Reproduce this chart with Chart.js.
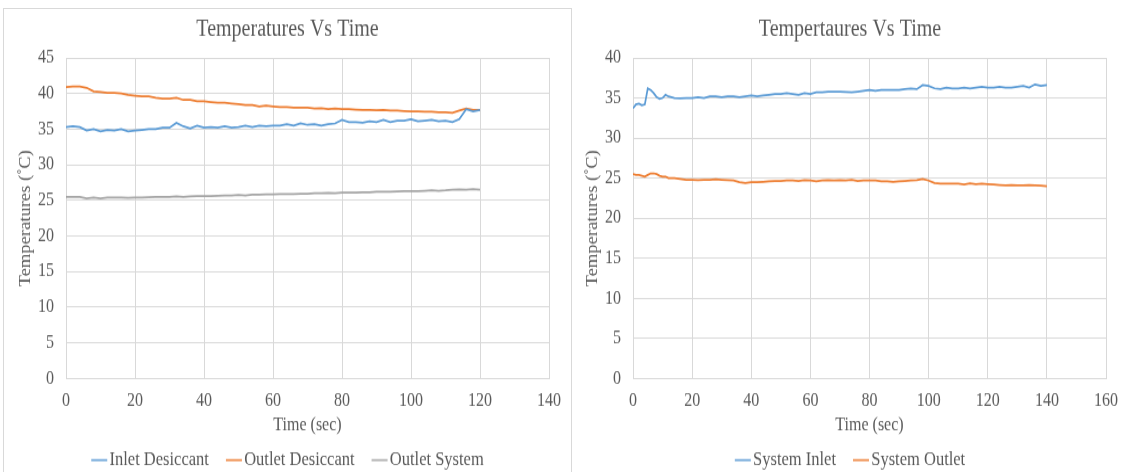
<!DOCTYPE html>
<html>
<head>
<meta charset="utf-8">
<script src="https://cdn.jsdelivr.net/npm/chart.js@4.4.1/dist/chart.umd.min.js"></script>
<style>
html, body { margin:0; padding:0; background:#fff; overflow:hidden; width:1125px; height:472px; }
.ln { position:absolute; background:#d9d9d9; }
canvas { position:absolute; transform-origin:0 0; transform:scaleY(1.16); }
</style>
</head>
<body>
<div class="ln" style="left:3px;top:8px;width:1px;height:464px"></div>
<div class="ln" style="left:3px;top:8px;width:569px;height:1px"></div>
<div class="ln" style="left:571px;top:8px;width:1px;height:464px"></div>
<canvas id="chartL" width="567" height="408" style="left:4px;top:8px"></canvas>
<canvas id="chartR" width="556" height="408" style="left:572px;top:8px"></canvas>
<script>
// ---- left chart: desiccant temps ----
const timeLeft = [0,2,4,6,8,10,12,14,16,18,20,22,24,26,28,30,32,34,36,38,40,42,44,46,48,50,52,54,56,58,
  60,62,64,66,68,70,72,74,76,78,80,82,84,86,88,90,92,94,96,98,100,102,104,106,108,110,112,114,116,118,120];
const inletDesiccant = [35.3,35.4,35.3,34.8,35.0,34.7,34.9,34.8,35.0,34.7,
  34.8,34.9,35.0,35.0,35.2,35.2,35.9,35.4,35.1,35.5,
  35.2,35.3,35.2,35.4,35.2,35.3,35.5,35.3,35.5,35.4,
  35.5,35.5,35.7,35.5,35.8,35.6,35.7,35.5,35.7,35.8,
  36.3,36.0,36.0,35.9,36.1,36.0,36.3,36.0,36.2,36.2,
  36.4,36.1,36.2,36.3,36.1,36.2,36.0,36.4,37.8,37.5,
  37.7];
const outletDesiccant = [40.9,41.0,41.0,40.8,40.3,40.2,40.1,40.1,40.0,39.8,
  39.7,39.6,39.6,39.4,39.3,39.3,39.4,39.1,39.1,38.9,
  38.9,38.8,38.7,38.7,38.6,38.5,38.4,38.4,38.2,38.3,
  38.2,38.1,38.1,38.0,38.0,38.0,37.9,37.95,37.8,37.9,
  37.8,37.8,37.75,37.7,37.7,37.65,37.7,37.6,37.6,37.55,
  37.5,37.5,37.45,37.45,37.35,37.35,37.3,37.6,37.9,37.7,
  37.7];
const outletSystem = [25.5,25.5,25.5,25.3,25.4,25.3,25.4,25.4,25.4,25.35,
  25.4,25.4,25.45,25.5,25.5,25.5,25.55,25.5,25.55,25.6,
  25.6,25.6,25.65,25.7,25.7,25.75,25.7,25.8,25.8,25.85,
  25.85,25.9,25.9,25.9,25.95,25.95,26.0,26.0,26.05,26.0,
  26.1,26.1,26.1,26.15,26.15,26.2,26.2,26.2,26.25,26.3,
  26.3,26.3,26.35,26.4,26.35,26.4,26.5,26.55,26.5,26.6,
  26.5];

// ---- right chart: system temps ----
const timeRight = [0,1,2,3,4,5,6,7,8,9,10,11,12,14,16,18,20,22,24,26,28,30,32,34,36,38,40,42,44,46,48,50,52,
  54,56,58,60,62,64,66,68,70,72,74,76,78,80,82,84,86,88,90,92,94,96,98,100,102,104,106,108,110,112,
  114,116,118,120,122,124,126,128,130,132,134,136,138,140];
const systemInlet = [33.7,34.2,34.3,34.1,34.2,36.2,36.0,35.6,35.1,34.9,35.0,35.4,35.2,
  35.0,34.95,35.0,35.0,35.1,35.0,35.2,35.2,35.1,35.2,
  35.2,35.1,35.2,35.3,35.2,35.3,35.4,35.5,35.5,35.6,
  35.5,35.4,35.6,35.5,35.7,35.7,35.8,35.8,35.8,35.75,
  35.7,35.8,35.9,36.0,35.9,36.0,36.0,36.0,36.0,36.1,
  36.2,36.1,36.6,36.5,36.2,36.1,36.3,36.2,36.2,36.3,
  36.2,36.3,36.4,36.3,36.3,36.4,36.3,36.3,36.4,36.5,
  36.3,36.7,36.5,36.6];
const systemOutlet = [25.5,25.4,25.4,25.3,25.2,25.4,25.6,25.6,25.5,25.3,25.2,25.2,25.0,
  25.0,24.9,24.8,24.8,24.75,24.8,24.8,24.85,24.8,24.75,
  24.7,24.5,24.4,24.5,24.5,24.55,24.6,24.65,24.65,24.7,
  24.7,24.65,24.75,24.7,24.6,24.7,24.75,24.7,24.75,24.7,
  24.8,24.65,24.7,24.7,24.7,24.6,24.6,24.55,24.6,24.65,
  24.7,24.75,24.9,24.7,24.4,24.3,24.3,24.3,24.3,24.2,
  24.35,24.25,24.3,24.25,24.2,24.15,24.1,24.15,24.1,24.1,
  24.15,24.1,24.05,24.0];

const BLUE = '#5b9bd5', ORANGE = '#ed7d31', GRAY = '#a5a5a5';
const SERIF = "'Liberation Serif', 'Times New Roman', serif";
Chart.defaults.font.family = SERIF;
Chart.defaults.color = '#595959';

function pts(xs, ys) {
  return ys.map(function (v, i) { return {x: xs[i], y: v}; });
}

// little dash used as legend symbol, drawn so it ends right before the text
function legendMark(color) {
  const c = document.createElement('canvas');
  c.width = 40; c.height = 4;
  const g = c.getContext('2d');
  g.strokeStyle = color; g.lineWidth = 1.6;
  g.beginPath(); g.moveTo(15, 2); g.lineTo(31, 2); g.stroke();
  return c;
}

function series(label, xs, ys, color) {
  return {label: label, data: pts(xs, ys), borderColor: color, backgroundColor: color,
    borderWidth: 1.75, pointRadius: 0, pointStyle: legendMark(color), tension: 0};
}

function makeChart(id, title, datasets, xMax, yMax, yWidth, yTitlePad) {
  const grid = {color: '#d9d9d9', drawTicks: false};
  return new Chart(document.getElementById(id), {
    type: 'line',
    data: {datasets: datasets},
    options: {
      responsive: false,
      animation: false,
      layout: {padding: {left: 22, right: 22, top: 0, bottom: 0}},
      scales: {
        x: {
          type: 'linear', min: 0, max: xMax,
          ticks: {stepSize: 20, padding: 9.3, font: {size: 16}, color: '#595959'},
          grid: grid, border: {color: '#d9d9d9'},
          title: {display: true, text: 'Time (sec)', font: {size: 16}, color: '#595959',
            padding: {top: 0, bottom: -5}},
          afterFit: function (scale) { scale.height = 45.1; }
        },
        y: {
          min: 0, max: yMax,
          ticks: {stepSize: 5, padding: 12, font: {size: 16}, color: '#595959'},
          grid: grid, border: {color: '#d9d9d9'},
          title: {display: true, text: 'Temperatures (˚C)', font: {size: 16}, color: '#595959',
            padding: {top: yTitlePad, bottom: 0}},
          afterFit: function (scale) { scale.width = yWidth; }
        }
      },
      plugins: {
        title: {display: true, text: title, font: {size: 20, weight: 'normal'}, color: '#595959',
          padding: {top: 7, bottom: 12}},
        legend: {
          position: 'bottom',
          labels: {usePointStyle: true, pointStyleWidth: 10,
            padding: 17, font: {size: 16.5}, color: '#595959'}
        },
        tooltip: {enabled: false}
      }
    }
  });
}

makeChart('chartL', 'Temperatures Vs Time', [
  series('Inlet Desiccant', timeLeft, inletDesiccant, BLUE),
  series('Outlet Desiccant', timeLeft, outletDesiccant, ORANGE),
  series('Outlet System', timeLeft, outletSystem, GRAY)
], 140, 45, 40, -10);

makeChart('chartR', 'Tempertaures Vs Time', [
  series('System Inlet', timeRight, systemInlet, BLUE),
  series('System Outlet', timeRight, systemOutlet, ORANGE)
], 160, 40, 39, -10.5);
</script>
</body>
</html>
